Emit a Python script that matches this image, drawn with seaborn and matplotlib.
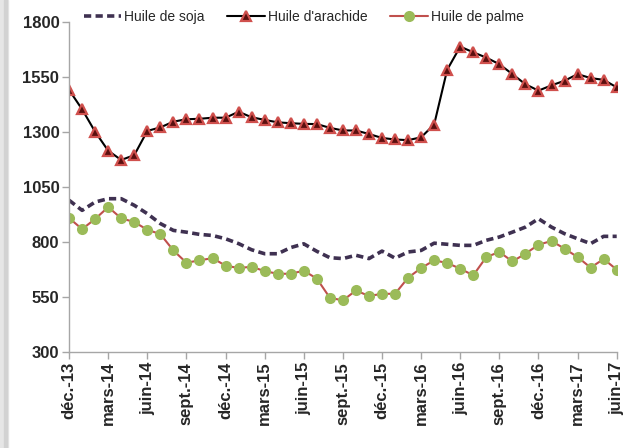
#!/usr/bin/python
# coding: utf-8

import numpy as np
import pandas as pd
import seaborn as sns
import matplotlib
matplotlib.use('Agg')
import matplotlib.pyplot as plt
from matplotlib.patches import Rectangle

# monthly prices, déc.-13 -> juin-17
soja = [990, 944, 982, 997, 997, 967, 929, 884, 853, 845, 835, 830, 815, 793,
        765, 747, 747, 775, 792, 758, 729, 725, 740, 725, 759, 727, 755, 762,
        795, 790, 785, 785, 808, 823, 845, 868, 906, 868, 838, 815, 793, 826, 826]
arachide = [1491, 1403, 1301, 1215, 1173, 1195, 1305, 1321, 1347, 1358, 1360,
            1365, 1365, 1392, 1367, 1355, 1344, 1340, 1337, 1336, 1319, 1307,
            1307, 1291, 1273, 1266, 1263, 1276, 1334, 1583, 1688, 1662, 1638,
            1608, 1563, 1517, 1488, 1512, 1533, 1563, 1545, 1537, 1503]
palme = [909, 859, 905, 959, 908, 891, 856, 836, 762, 706, 717, 727, 693, 682,
         688, 668, 656, 656, 670, 634, 547, 535, 580, 555, 565, 565, 638, 682,
         717, 705, 679, 649, 732, 755, 712, 747, 788, 805, 770, 732, 684, 723, 675]
tick_labels = ['déc.-13', 'mars-14', 'juin-14', 'sept.-14', 'déc.-14', 'mars-15',
               'juin-15', 'sept.-15', 'déc.-15', 'mars-16', 'juin-16', 'sept.-16',
               'déc.-16', 'mars-17', 'juin-17']
y_ticks = [300, 550, 800, 1050, 1300, 1550, 1800]

month = np.arange(len(soja))
df = pd.DataFrame({'mois': month, 'soja': soja, 'arachide': arachide, 'palme': palme})

sns.set_style('white')
plt.rcParams['font.family'] = ['Liberation Sans Narrow', 'Liberation Sans', 'DejaVu Sans']

fig = plt.figure(figsize=(6.28, 4.48), dpi=100)
ax = fig.add_axes([0.110, 0.214, 0.872, 0.737])

# light grey frame shadow on the left edge
fig.patches.append(Rectangle((0.0, 0.0), 0.013, 1.0, transform=fig.transFigure,
                             color='#e6e6e6', zorder=0))
fig.patches.append(Rectangle((0.006, 0.0), 0.005, 1.0, transform=fig.transFigure,
                             color='#d2d2d2', zorder=0))

sns.lineplot(data=df, x='mois', y='soja', ax=ax, color='#3f3151', linewidth=2.6,
             dashes=False, linestyle=(0, (2.0, 1.2)), label='Huile de soja')
sns.lineplot(data=df, x='mois', y='arachide', ax=ax, color='black', linewidth=1.5,
             marker='^', markersize=7, markerfacecolor='#5a0f0f',
             markeredgecolor='#d0504d', markeredgewidth=1.6, label="Huile d'arachide")
sns.lineplot(data=df, x='mois', y='palme', ax=ax, color='#c0504d', linewidth=1.5,
             marker='o', markersize=8, markerfacecolor='#9bbb59',
             markeredgecolor='#9bbb59', markeredgewidth=0, label='Huile de palme')

ax.set_xlim(0, len(soja) - 1)
ax.set_ylim(300, 1800)
ax.set_yticks(y_ticks)
ax.set_yticklabels([str(v) for v in y_ticks], fontsize=12, fontweight='bold')
ax.set_xticks(np.arange(0, len(soja), 3))
ax.set_xticklabels(tick_labels, rotation=90, fontsize=12, fontweight='bold')
ax.set_xlabel('')
ax.set_ylabel('')

for s in ['top', 'right']:
    ax.spines[s].set_visible(False)
for s in ['left', 'bottom']:
    ax.spines[s].set_color('#a6a6a6')
    ax.spines[s].set_linewidth(1)
ax.tick_params(axis='both', direction='out', length=5, width=1, color='#a6a6a6',
               bottom=True, left=True, pad=2)

handles, labels = ax.get_legend_handles_labels()
ax.get_legend().remove()
fig.legend(handles, labels, loc='center left', bbox_to_anchor=(0.133, 0.962),
           ncol=3, frameon=False, fontsize=10, handlelength=2.7,
           handletextpad=0.25, columnspacing=1.6, borderaxespad=0, borderpad=0)

fig.savefig('out.png', dpi=100)
